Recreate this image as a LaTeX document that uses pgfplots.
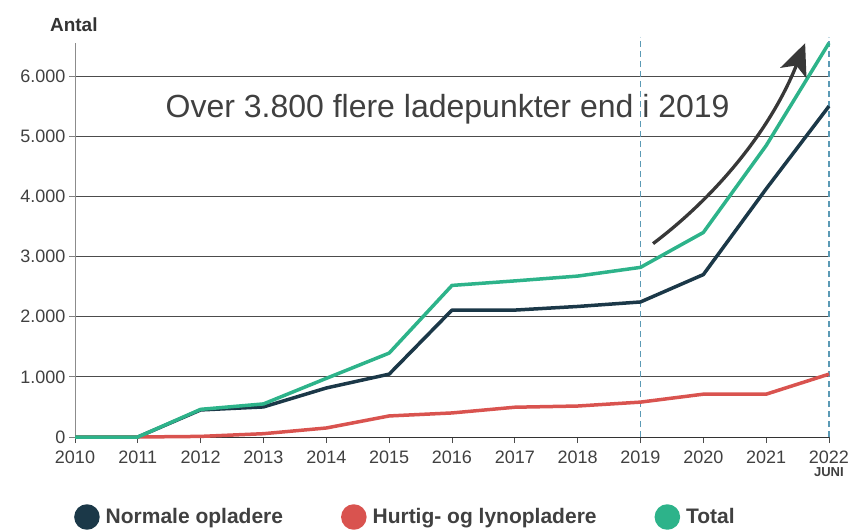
\documentclass[border=0pt]{standalone}
\usepackage{fontspec}
\setmainfont{Liberation Sans}
\usepackage{pgfplots}
\pgfplotsset{compat=1.18}
\usetikzlibrary{arrows.meta}
\definecolor{navy}{HTML}{1B3848}
\definecolor{redl}{HTML}{D9534F}
\definecolor{greenl}{HTML}{2DB38A}
\definecolor{dashblue}{HTML}{5B9AB5}
\definecolor{txt}{HTML}{404040}
\begin{document}
\begin{tikzpicture}
\begin{axis}[
  at={(0,0)}, anchor=south west,
  width=754pt, height=394pt, scale only axis,
  xmin=2010, xmax=2022, ymin=0, ymax=6550,
  clip=false,
  axis x line*=bottom, axis y line*=left,
  x axis line style={-, draw=black!80, line width=0.8pt},
  y axis line style={-, draw=black!45, line width=0.8pt},
  xtick={2010,...,2022},
  xticklabels={2010,2011,2012,2013,2014,2015,2016,2017,2018,2019,2020,2021,{2022\\[-3pt]{\bfseries\fontsize{13}{13}\selectfont JUNI}}},
  ytick={0,1000,...,6000},
  /pgf/number format/assume math mode=true,
  /pgf/number format/1000 sep={.},
  tick align=outside, major tick length=6pt,
  xtick style={draw=black!70, line width=0.8pt},
  ytick style={draw=black!50, line width=0.8pt},
  xticklabel style={align=center, yshift=-4pt, font=\fontsize{18}{16}\selectfont, text=txt},
  yticklabel style={font=\fontsize{18}{20}\selectfont, text=txt},
  ymajorgrids, grid style={draw=black!70, line width=0.8pt},
  legend style={at={(0,0)}, anchor=west, xshift=-4pt, yshift=-80pt,
    draw=none, fill=none, legend columns=3,
    font=\bfseries\fontsize{21}{23}\selectfont, text=txt,
    /tikz/every odd column/.append style={column sep=4pt},
    /tikz/every even column/.append style={column sep=56pt}},
  legend image code/.code={\fill[#1] (11pt,0pt) circle (11pt);},
  every axis plot/.append style={line width=3.5pt, line join=round, mark=none},
]
\draw[dashblue, line width=1.3pt, dash pattern=on 6pt off 4pt] (axis cs:2019,0) -- (axis cs:2019,6650);
\draw[dashblue, line width=1.3pt, dash pattern=on 6pt off 4pt] (axis cs:2022,0) -- (axis cs:2022,6650);

\addplot[navy] coordinates {(2010,0) (2011,0) (2012,450) (2013,500) (2014,815)
  (2015,1045) (2016,2110) (2017,2110) (2018,2170) (2019,2245) (2020,2700)
  (2021,4125) (2022,5500)};
\addlegendentry{Normale opladere}
\addplot[redl] coordinates {(2010,0) (2011,0) (2012,10) (2013,55) (2014,150)
  (2015,350) (2016,400) (2017,495) (2018,515) (2019,580) (2020,712)
  (2021,712) (2022,1045)};
\addlegendentry{Hurtig- og lynopladere}
\addplot[greenl] coordinates {(2010,0) (2011,0) (2012,460) (2013,550) (2014,975)
  (2015,1395) (2016,2520) (2017,2595) (2018,2675) (2019,2820) (2020,3400)
  (2021,4845) (2022,6550)};
\addlegendentry{Total}

\draw[black!78, line width=3.3pt, -{Stealth[length=32pt,width=28pt,inset=8pt]}]
  (axis cs:2019.2,3215) .. controls (axis cs:2020.30,4083) and (axis cs:2021.11,5200) .. (axis cs:2021.62,6547);

\node[anchor=base, font=\fontsize{32}{34}\selectfont, text=txt]
  at (axis cs:2015.93,5304) {Over 3.800 flere ladepunkter end i 2019};
\node[anchor=base west, font=\bfseries\fontsize{19}{20}\selectfont, text=black!80, inner sep=0pt]
  at (axis cs:2009.6,6746) {Antal};
\end{axis}
\pgfresetboundingbox
\path[use as bounding box] (-75pt,-94pt) rectangle (774pt,437pt);
\end{tikzpicture}
\end{document}
